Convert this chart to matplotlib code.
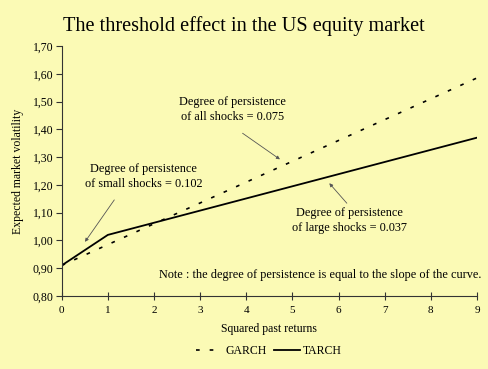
import matplotlib
matplotlib.use("Agg")
import matplotlib.pyplot as plt
from matplotlib.ticker import FuncFormatter

## data
garch_x = [0, 1, 2, 3, 4, 5, 6, 7, 8, 9]
garch_y = [0.91, 0.985, 1.06, 1.135, 1.21, 1.285, 1.36, 1.435, 1.51, 1.585]
tarch_x = [0, 1, 9]
tarch_y = [0.91, 1.02, 1.37]

bg = '#FBFAB5'
plt.rcParams['font.family'] = ['Liberation Serif', 'DejaVu Serif']

fig = plt.figure(figsize=(4.88, 3.69), dpi=100, facecolor=bg)
ax = fig.add_axes([0.1264, 0.1978, 0.851, 0.6775], facecolor=bg)

ax.plot(garch_x, garch_y, color='black', lw=1.2, ls=(0, (2.2, 6)), label='GARCH')
ax.plot(tarch_x, tarch_y, color='black', lw=1.3, label='TARCH')

ax.set_xlim(0, 9)
ax.set_ylim(0.8, 1.7)
ax.set_xticks(range(10))
ax.set_yticks([0.8 + 0.1 * i for i in range(10)])
ax.yaxis.set_major_formatter(FuncFormatter(lambda v, p: ('%.2f' % v).replace('.', ',')))
ax.spines['top'].set_visible(False)
ax.spines['right'].set_visible(False)
for s in ['left', 'bottom']:
    ax.spines[s].set_linewidth(0.8)
    ax.spines[s].set_color('#333333')
ax.tick_params(axis='x', direction='inout', length=6, width=0.8, labelsize=8, pad=4, colors='#333333')
ax.tick_params(axis='y', direction='out', length=4, width=0.8, labelsize=8.5, pad=2, colors='#333333')
for lab in ax.get_xticklabels() + ax.get_yticklabels():
    lab.set_color('black')

fig.text(0.5, 0.93, 'The threshold effect in the US equity market', ha='center', va='center', fontsize=14.6)
ax.set_xlabel('Squared past returns', fontsize=8.5, labelpad=6)
ax.set_ylabel('Expected market volatility', fontsize=8.5, labelpad=6)

fs = 8.8
arrow = dict(arrowstyle='-|>', color='#555555', lw=0.6, mutation_scale=5, shrinkA=0, shrinkB=0)
ax.text(3.71, 1.471, 'Degree of persistence\nof all shocks = 0.075', ha='center', va='center', fontsize=fs, linespacing=1.3)
ax.annotate('', xy=(4.73, 1.292), xytext=(3.92, 1.386), arrowprops=arrow)
ax.text(1.78, 1.229, 'Degree of persistence\nof small shocks = 0.102', ha='center', va='center', fontsize=fs, linespacing=1.3)
ax.annotate('', xy=(0.505, 0.995), xytext=(1.14, 1.146), arrowprops=arrow)
ax.text(6.23, 1.072, 'Degree of persistence\nof large shocks = 0.037', ha='center', va='center', fontsize=fs, linespacing=1.3)
ax.annotate('', xy=(5.80, 1.206), xytext=(6.18, 1.134), arrowprops=arrow)
ax.text(9.09, 0.876, 'Note : the degree of persistence is equal to the slope of the curve.', ha='right', va='center', fontsize=fs)

fig.legend(loc='center', bbox_to_anchor=(0.551, 0.049), ncol=2, frameon=False, fontsize=8.5,
           handlelength=2.2, columnspacing=0.6, handletextpad=0.3)

plt.savefig('out.png', dpi=100, facecolor=bg)
